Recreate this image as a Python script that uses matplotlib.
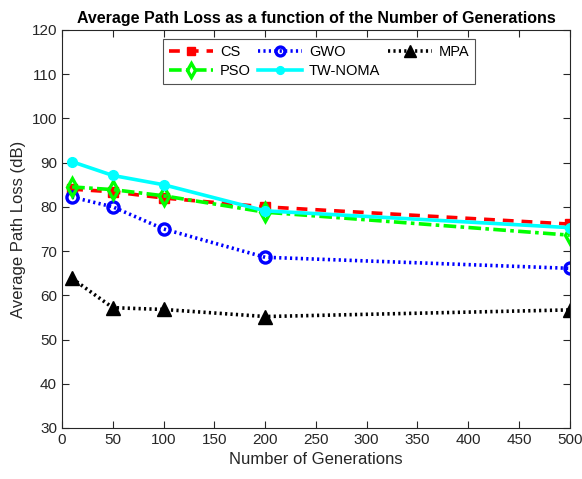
import numpy as np
import matplotlib
matplotlib.use('Agg')
import matplotlib.pyplot as plt

plt.rcParams['font.family'] = ['Liberation Sans', 'DejaVu Sans']

generations = [10, 50, 100, 200, 500]
cs = [84.0, 83.4, 82.0, 80.0, 76.1]
pso = [84.5, 83.9, 82.5, 78.8, 73.6]
gwo = [82.2, 80.0, 75.0, 68.6, 66.1]
tw_noma = [90.2, 87.1, 85.0, 79.1, 75.3]
mpa = [63.8, 57.2, 56.8, 55.2, 56.7]

fig = plt.figure(figsize=(5.82, 4.79), dpi=100)
ax = fig.add_axes([0.1065, 0.1065, 0.8725, 0.831])

lw = 2.6
l_cs, = ax.plot(generations, cs, color='red', linestyle=(0, (3, 2.2)), linewidth=lw,
                marker='s', markersize=7.5, markerfacecolor='red', markeredgecolor='red', label='CS')
l_gwo, = ax.plot(generations, gwo, color='blue', linestyle=(0, (0.6, 0.9)), linewidth=lw,
                 marker='o', markersize=8, markerfacecolor='none', markeredgewidth=2.4,
                 markeredgecolor='blue', label='GWO')
l_mpa, = ax.plot(generations, mpa, color='black', linestyle=(0, (0.6, 0.9)), linewidth=lw,
                 marker='^', markersize=10, markerfacecolor='black', markeredgecolor='black', label='MPA')
l_pso, = ax.plot(generations, pso, color='#00ff00', linestyle=(0, (3.5, 1.2, 1, 1.2)), linewidth=lw,
                 marker='d', markersize=9, markerfacecolor='none', markeredgewidth=2.4,
                 markeredgecolor='#00ff00', label='PSO')
l_tw, = ax.plot(generations, tw_noma, color='cyan', linestyle='-', linewidth=lw,
                marker='o', markersize=7, markerfacecolor='cyan', markeredgecolor='cyan', label='TW-NOMA')

ax.set_xlim(0, 500)
ax.set_ylim(30, 120)
ax.set_xticks(np.arange(0, 501, 50))
ax.set_yticks(np.arange(30, 121, 10))
ax.tick_params(direction='in', top=True, right=True, labelsize=11, length=5, width=0.8,
               colors='#262626')
for s in ax.spines.values():
    s.set_linewidth(0.8)
    s.set_color('#262626')

ax.set_title('Average Path Loss as a function of the Number of Generations',
             fontsize=11.5, fontweight='bold', pad=5)
ax.set_xlabel('Number of Generations', fontsize=12, color='#262626')
ax.set_ylabel('Average Path Loss (dB)', fontsize=12, color='#262626')

# matplotlib fills legend columns first, so order handles to get rows CS/GWO/MPA, PSO/TW-NOMA
handles = [l_cs, l_pso, l_gwo, l_tw, l_mpa]
leg = ax.legend(handles, [h.get_label() for h in handles], ncol=3, loc='upper left',
                bbox_to_anchor=(0.199, 0.977), fontsize=10.5, frameon=True, fancybox=False,
                edgecolor='#262626', handlelength=3.0, columnspacing=0.5, handletextpad=0.5,
                labelspacing=0.35, borderpad=0.4, borderaxespad=0, markerscale=0.8)
leg.get_frame().set_linewidth(0.8)

fig.savefig('out.png', dpi=100)
